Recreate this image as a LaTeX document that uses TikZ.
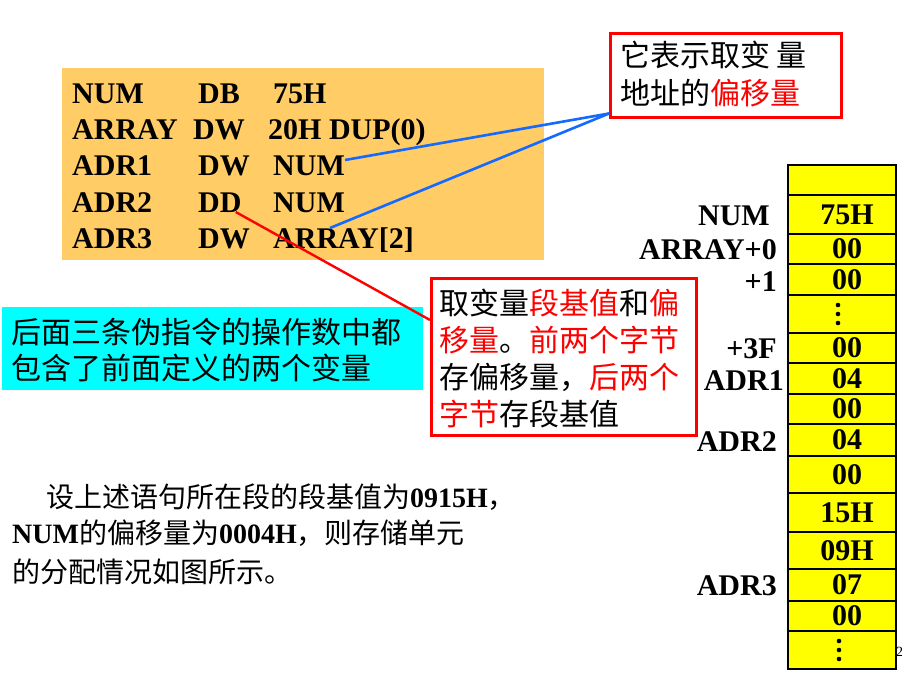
\documentclass[tikz,border=0pt]{standalone}
\usepackage{fontspec}
\setmainfont{Liberation Serif}
\newfontfamily\cjk{Noto Sans CJK SC}
\definecolor{codeorange}{RGB}{255,204,102}
\definecolor{memyellow}{RGB}{255,255,0}
\definecolor{linkblue}{RGB}{20,105,255}
\definecolor{boxcyan}{RGB}{0,255,255}
\begin{document}
\begin{tikzpicture}[x=1pt,y=-1pt,
  codetxt/.style={font=\fontsize{30}{36}\selectfont\bfseries, anchor=base west, inner sep=0pt},
  lbl/.style={font=\fontsize{30}{36}\selectfont\bfseries, anchor=base east, inner sep=0pt},
  val/.style={font=\fontsize{30}{36}\selectfont\bfseries, inner sep=0pt},
  cell/.style={draw=black, line width=1.2pt, fill=memyellow, minimum width=108pt, inner sep=0pt},
  cjkline/.style={font=\fontsize{30}{36}\selectfont\cjk, anchor=base west, inner sep=0pt},
  cjksmall/.style={font=\fontsize{28}{34}\selectfont\cjk, anchor=base west, inner sep=0pt},
  callout/.style={draw=red, line width=3pt, fill=white, inner sep=0pt},
  bluelink/.style={draw=linkblue, line width=2.6pt},
  redlink/.style={draw=red, line width=2.4pt},
  memdot/.style={fill=black, circle, inner sep=0pt, minimum size=4.6pt}
]
\useasboundingbox[fill=white] (0,0) rectangle (902,675);

% code box
\node[fill=codeorange, minimum width=482pt, minimum height=192pt, inner sep=0pt] (code) at (303,164) {};
\node[codetxt] (l1a) at (72,103) {NUM};
\node[codetxt] (l1b) at (198,103) {DB};
\node[codetxt] (l1c) at (273,103) {75H};
\node[codetxt] (l2a) at (72,139) {ARRAY};
\node[codetxt] (l2b) at (193,139) {DW};
\node[codetxt] (l2c) at (268,139) {20H DUP(0)};
\node[codetxt] (l3a) at (72,175) {ADR1};
\node[codetxt] (l3b) at (198,175) {DW};
\node[codetxt] (l3c) at (273,175) {NUM};
\node[codetxt] (l4a) at (72,212) {ADR2};
\node[codetxt] (l4b) at (198,212) {DD};
\node[codetxt] (l4c) at (273,212) {NUM};
\node[codetxt] (l5a) at (72,248) {ADR3};
\node[codetxt] (l5b) at (198,248) {DW};
\node[codetxt] (l5c) at (273,248) {ARRAY[2]};

% cyan box
\node[fill=boxcyan, minimum width=421pt, minimum height=83pt, inner sep=0pt] (cyanbox) at (212.5,348.5) {};
\node[cjkline] (cy1) at (11,343.5) {后面三条伪指令的操作数中都};
\node[cjkline] (cy2) at (11,379.5) {包含了前面定义的两个变量};

% top callout
\node[callout, minimum width=231pt, minimum height=84pt] (co1) at (726,75) {};
\node[cjkline] (t1) at (620,66.5) {它表示取变 量};
\node[cjkline] (t2) at (620,104) {地址的\textcolor{red}{偏移量}};

% middle callout
\node[callout, minimum width=265pt, minimum height=157pt] (co2) at (564,357) {};
\node[cjkline] (m1t) at (439,314) {取变量\textcolor{red}{段基值}和\textcolor{red}{偏}};
\node[cjkline] (m2t) at (439,351) {\textcolor{red}{移量}。\textcolor{red}{前两个字节}};
\node[cjkline] (m3t) at (439,388) {存偏移量，\textcolor{red}{后两个}};
\node[cjkline] (m4t) at (439,425) {\textcolor{red}{字节}存段基值};

% connectors
\coordinate (apex) at ([yshift=5pt]co1.south west);
\coordinate (arrstart) at (330,228);
\draw[bluelink] ([yshift=15pt]l3c.base east) -- (apex);
\draw[bluelink] (arrstart) -- (apex);
\draw[redlink] ([xshift=-6pt]l4b.base east) -- ([yshift=37pt]co2.west);

% bottom text
\node[cjksmall] (b1) at (46,507.5) {设上述语句所在段的段基值为{\rmfamily\bfseries 0915H}，};
\node[cjksmall] (b2) at (12,543.5) {{\rmfamily\bfseries NUM}的偏移量为{\rmfamily\bfseries 0004H}，则存储单元};
\node[cjksmall] (b3) at (12,582.5) {的分配情况如图所示。};

% memory column
\foreach \i/\c/\h/\v in {1/180/30/{}, 2/214.5/39/75H, 3/249/30/00, 4/279.5/31/00,
  5/314/38/{}, 6/348/30/00, 7/378.5/31/04, 8/409/30/00, 9/440/32/04,
  10/474.5/37/00, 11/512.5/39/15H, 12/550.5/37/09H, 13/585/32/07,
  14/616/30/00, 15/650/38/{}}{
  \node[cell, minimum height=\h pt] (m\i) at (842,\c) {};
  \node[val] (v\i) at ([xshift=5pt]m\i.center) {\v};
}
\foreach \k in {-9,0,9}{
  \node[memdot] at ([shift={(-4pt,\k)}]m5.center) {};
  \node[memdot] at ([shift={(-3pt,\k)}]m15.center) {};
}

% labels
\node[lbl] (n1) at (770,225) {NUM};
\node[lbl] (n2) at (777,259) {ARRAY+0};
\node[lbl] (n3) at (777,291) {+1};
\node[lbl] (n4) at (777,358) {+3F};
\node[lbl] (n5) at (784,390) {ADR1};
\node[lbl] (n6) at (777,451) {ADR2};
\node[lbl] (n7) at (777,595) {ADR3};

% page number (cut off at the edge)
\node[font=\fontsize{14}{14}\selectfont, anchor=base west, inner sep=0pt] (pg) at (896,656) {29};
\end{tikzpicture}
\end{document}
